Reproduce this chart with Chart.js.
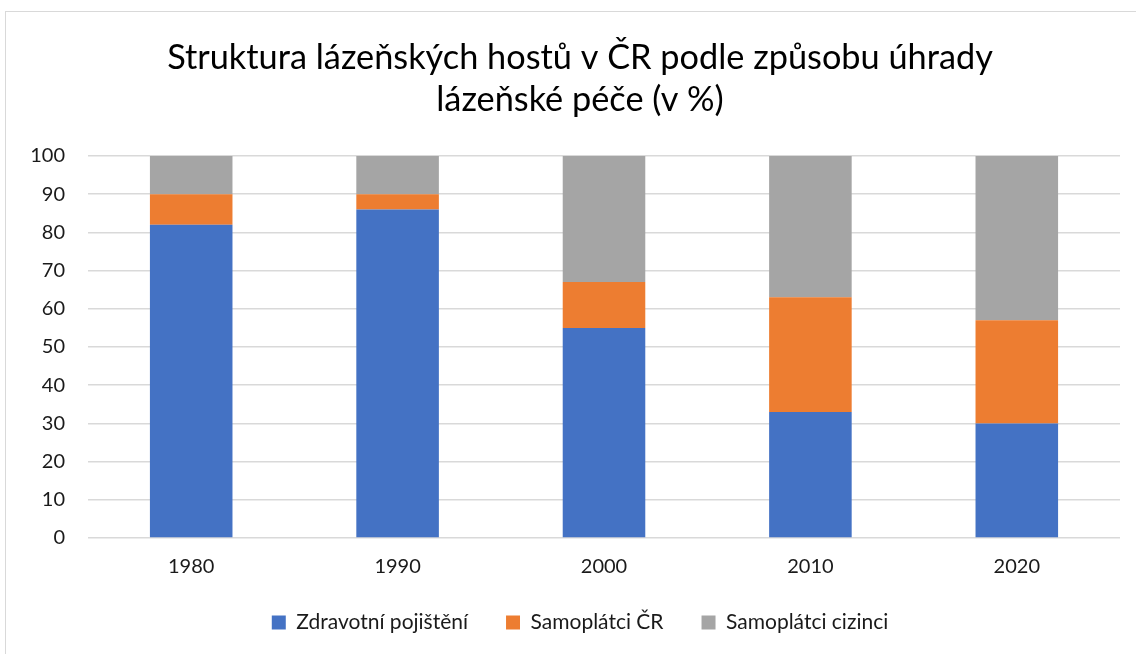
<!DOCTYPE html>
<html lang="cs">
<head>
  <meta charset="UTF-8">
  <title>Struktura lázeňských hostů</title>
  <script src="https://cdn.jsdelivr.net/npm/chart.js"></script>
  <style>
    body { margin: 0; background: #fff; }
    #frame {
      position: absolute; left: 5px; top: 11px; width: 1140px; height: 650px;
      border-left: 1px solid #d9d9d9; border-top: 1px solid #d9d9d9;
    }
    #myChart { position: absolute; left: 1px; top: 1px; }
  </style>
</head>
<body>
  <div id="frame">
    <canvas id="myChart" width="1130" height="642"></canvas>
  </div>

  <script>
    // data (percent)
    const years = ['1980', '1990', '2000', '2010', '2020'];
    const zdravotniPojisteni = [82, 86, 55, 33, 30];
    const samoplatciCR = [8, 4, 12, 30, 27];
    const samoplatciCizinci = [10, 10, 33, 37, 43];
    const yTicks = [0, 10, 20, 30, 40, 50, 60, 70, 80, 90, 100];

    const font = 'Lato, "Open Sans", sans-serif';

    // let tick labels spill outside their axis box instead of being clipped
    const noLabelClip = scale => { scale._computeLabelArea = () => undefined; };

    const ctx = document.getElementById('myChart').getContext('2d');
    new Chart(ctx, {
      type: 'bar',
      data: {
        labels: years,
        datasets: [
          { label: 'Zdravotní pojištění', data: zdravotniPojisteni, backgroundColor: '#4472C4' },
          { label: 'Samoplátci ČR', data: samoplatciCR, backgroundColor: '#ED7D31' },
          { label: 'Samoplátci cizinci', data: samoplatciCizinci, backgroundColor: '#A5A5A5' }
        ]
      },
      options: {
        responsive: false,
        animation: false,
        categoryPercentage: 0.4,
        barPercentage: 1,
        layout: { padding: { left: 33, right: 17, top: 0, bottom: 12 } },
        plugins: {
          title: {
            display: true,
            text: ['Struktura lázeňských hostů v ČR podle způsobu úhrady', 'lázeňské péče (v %)'],
            color: '#000',
            font: { family: font, size: 34.3, weight: 'normal', lineHeight: 1.225 },
            padding: { top: 24, bottom: 35 }
          },
          legend: {
            position: 'bottom',
            labels: {
              color: '#1a1a1a',
              font: { family: font, size: 21 },
              boxWidth: 14, boxHeight: 14,
              padding: 38
            }
          },
          tooltip: { enabled: false }
        },
        scales: {
          x: {
            stacked: true,
            grid: { display: false },
            border: { display: false },
            ticks: { color: '#1a1a1a', font: { family: font, size: 20 }, padding: 9 },
            afterFit: scale => { scale.height = 36; noLabelClip(scale); }
          },
          y: {
            stacked: true,
            min: 0, max: 100,
            afterBuildTicks: axis => { axis.ticks = yTicks.map(v => ({ value: v })); },
            grid: { color: '#d9d9d9', lineWidth: 1.5, drawTicks: false },
            border: { display: false },
            ticks: { color: '#1a1a1a', font: { family: font, size: 20 }, padding: 23 },
            afterFit: scale => { scale.width = 48; noLabelClip(scale); }
          }
        }
      }
    });
  </script>
</body>
</html>
